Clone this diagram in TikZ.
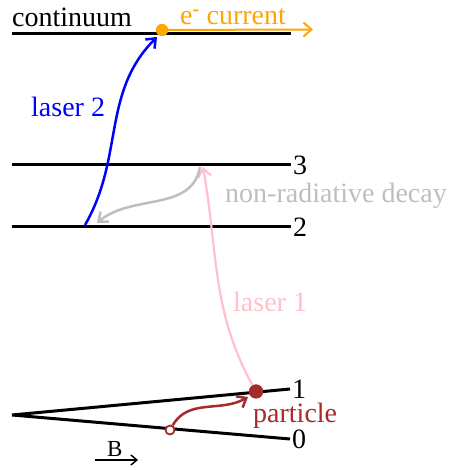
\documentclass[tikz,border=0pt]{standalone}
\usepackage{fontspec}
\setmainfont{Liberation Serif}
\usetikzlibrary{arrows.meta}
\definecolor{myorange}{RGB}{255,165,0}
\definecolor{mypink}{RGB}{255,192,203}
\definecolor{mygray}{RGB}{190,190,190}
\definecolor{mybrown}{RGB}{165,42,42}
\tikzset{
  level/.style={line width=3pt},
  txt/.style={font=\fontsize{28}{32}\selectfont, inner sep=0pt, anchor=base west},
  lvl/.style={font=\fontsize{28}{32}\selectfont, inner sep=2pt, anchor=west},
  trans/.style={line width=2.5pt, -{Straight Barb[length=8pt,width=13pt]}},
}
\begin{document}
\begin{tikzpicture}[x=1pt,y=1pt]
\useasboundingbox (0,0) rectangle (449,470);
% coordinates
\coordinate (c0) at (12,436);
\coordinate (c1) at (291,436);
\coordinate (t0) at (12,305);
\coordinate (t1) at (291,305);
\coordinate (s0) at (12,243);
\coordinate (s1) at (291,243);
\coordinate (apex) at (12,55);
\coordinate (o1) at (290,81);
\coordinate (z1) at (290,31);
\coordinate (etip) at (313,440.5);
\coordinate (bstart) at (85,245);
\coordinate (btip) at (157,433);
\coordinate (gstart) at (200,303);
\coordinate (gtip) at (97,247);
\coordinate (ptip) at (203,303);
\coordinate (rtip) at (248,73);
\coordinate (B0) at (95,10);
\coordinate (B1) at (138,10);
% levels
\draw[level] (c0) -- (c1);
\draw[level] (t0) -- (t1);
\draw[level] (s0) -- (s1);
\draw[level, line join=miter] (o1) -- (apex) -- (z1);
% level labels
\node[lvl] (l3) at (t1) {3};
\node[lvl] (l2) at (s1) {2};
\node[lvl] (l1) at (o1) {1};
\node[lvl] (l0) at (z1) {0};
% texts
\node[txt] (tcont) at (12,443) {continuum};
\node[txt, text=myorange] (tcur) at (180,445) {e\textsuperscript{\textbf{-}} current};
\node[txt, text=blue] (tl2) at (31,353) {laser 2};
\node[txt, text=mygray] (tnr) at (225,267) {non-radiative decay};
\node[txt, text=mypink] (tl1) at (233,158) {laser 1};
\node[txt, text=mybrown] (tpart) at (253,47) {particle};
\node[font=\fontsize{23}{26}\selectfont, inner sep=0pt, anchor=base west] (tB) at (107,13) {B};
% dots
\node[circle, fill=mybrown, minimum size=14pt, inner sep=0pt] (pdot) at (256,78.5) {};
\node[circle, draw=mybrown, fill=white, line width=1.8pt, minimum size=9pt, inner sep=0pt] (odot) at (170,40) {};
% transitions
\draw[trans, mypink, line width=2.2pt] (pdot.center) to[out=120, in=-80] (ptip);
\node[circle, fill=mybrown, minimum size=14pt, inner sep=0pt] (pdot2) at (pdot) {};
\draw[trans, mygray] (gstart) to[out=-100, in=40] (gtip);
\draw[trans, blue] (bstart) to[out=60, in=225] (btip);
\draw[trans, mybrown] (odot) to[out=60, in=210] (rtip);
\node[circle, fill=myorange, minimum size=12pt, inner sep=0pt] (edot) at (162,440) {};
\draw[myorange, line width=2pt, -{Straight Barb[length=8pt,width=14pt]}] (edot.center) -- (etip);
\node[circle, fill=myorange, minimum size=12pt, inner sep=0pt] at (edot) {};
\draw[line width=1.4pt, -{Straight Barb[length=6pt,width=10pt]}] (B0) -- (B1);
\end{tikzpicture}
\end{document}
